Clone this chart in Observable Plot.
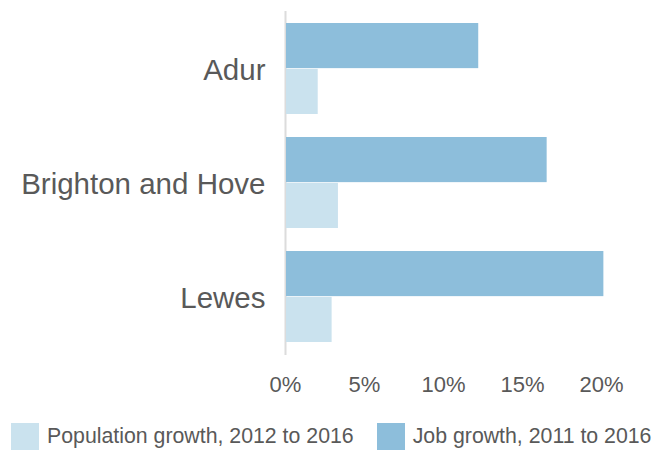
<!DOCTYPE html>
<html>
<head>
<meta charset="utf-8">
<script src="https://cdn.jsdelivr.net/npm/d3@7"></script>
<script src="https://cdn.jsdelivr.net/npm/@observablehq/plot@0.6"></script>
<style>
  body { margin: 0; background: #fff; font-family: "Liberation Sans", Arial, sans-serif; }
  #legend { display: flex; align-items: center; padding-left: 11px; margin-top: 23px; gap: 23px; }
  .item { display: flex; align-items: center; gap: 8px; font-size: 21.3px; color: #595959; }
  .sw { width: 28px; height: 27px; }
</style>
</head>
<body>
<div id="chart"></div>
<div id="legend"></div>
<script>
const categories = ["Adur", "Brighton and Hove", "Lewes"];
const jobGrowth = [0.1223, 0.1656, 0.2015];
const popGrowth = [0.0207, 0.0335, 0.0295];
const seriesNames = ["Population growth, 2012 to 2016", "Job growth, 2011 to 2016"];
const seriesColors = ["#cae2ee", "#8dbedb"];
const xTicks = [0, 0.05, 0.10, 0.15, 0.20];

const jobs = categories.map((c, i) => ({category: c, value: jobGrowth[i]}));
const pops = categories.map((c, i) => ({category: c, value: popGrowth[i]}));

const height = 400, marginTop = 11, marginBottom = 45;
const step = (height - marginTop - marginBottom) / 3;
const half = step * 0.8 / 2;

const chart = Plot.plot({
  width: 656,
  height,
  marginLeft: 285,
  marginRight: 55,
  marginTop,
  marginBottom,
  style: {fontFamily: "'Liberation Sans', Arial, sans-serif", color: "#595959", background: "#fff"},
  x: {domain: [0, 0.2], ticks: xTicks, tickFormat: d3.format(".0%")},
  y: {domain: categories, paddingInner: 0.2, paddingOuter: 0.1},
  marks: [
    Plot.ruleX([0], {stroke: "#dcdcdc", strokeWidth: 2}),
    Plot.barX(jobs, {x1: 0, x2: "value", y: "category", fill: seriesColors[1], insetBottom: half, insetLeft: 1}),
    Plot.barX(pops, {x1: 0, x2: "value", y: "category", fill: seriesColors[0], insetTop: half, insetLeft: 1}),
    Plot.axisX({ticks: xTicks, tickFormat: d3.format(".0%"), tickSize: 0, tickPadding: 21, fontSize: 22, fill: "#595959", label: null}),
    Plot.axisY({tickSize: 0, tickPadding: 20, fontSize: 29.5, fill: "#595959", label: null, dy: 1.5})
  ]
});
document.getElementById("chart").appendChild(chart);

const legend = document.getElementById("legend");
seriesNames.forEach((name, i) => {
  const item = document.createElement("div");
  item.className = "item";
  const sw = document.createElement("div");
  sw.className = "sw";
  sw.style.background = seriesColors[i];
  const t = document.createElement("span");
  t.textContent = name;
  item.appendChild(sw);
  item.appendChild(t);
  legend.appendChild(item);
});
</script>
</body>
</html>
